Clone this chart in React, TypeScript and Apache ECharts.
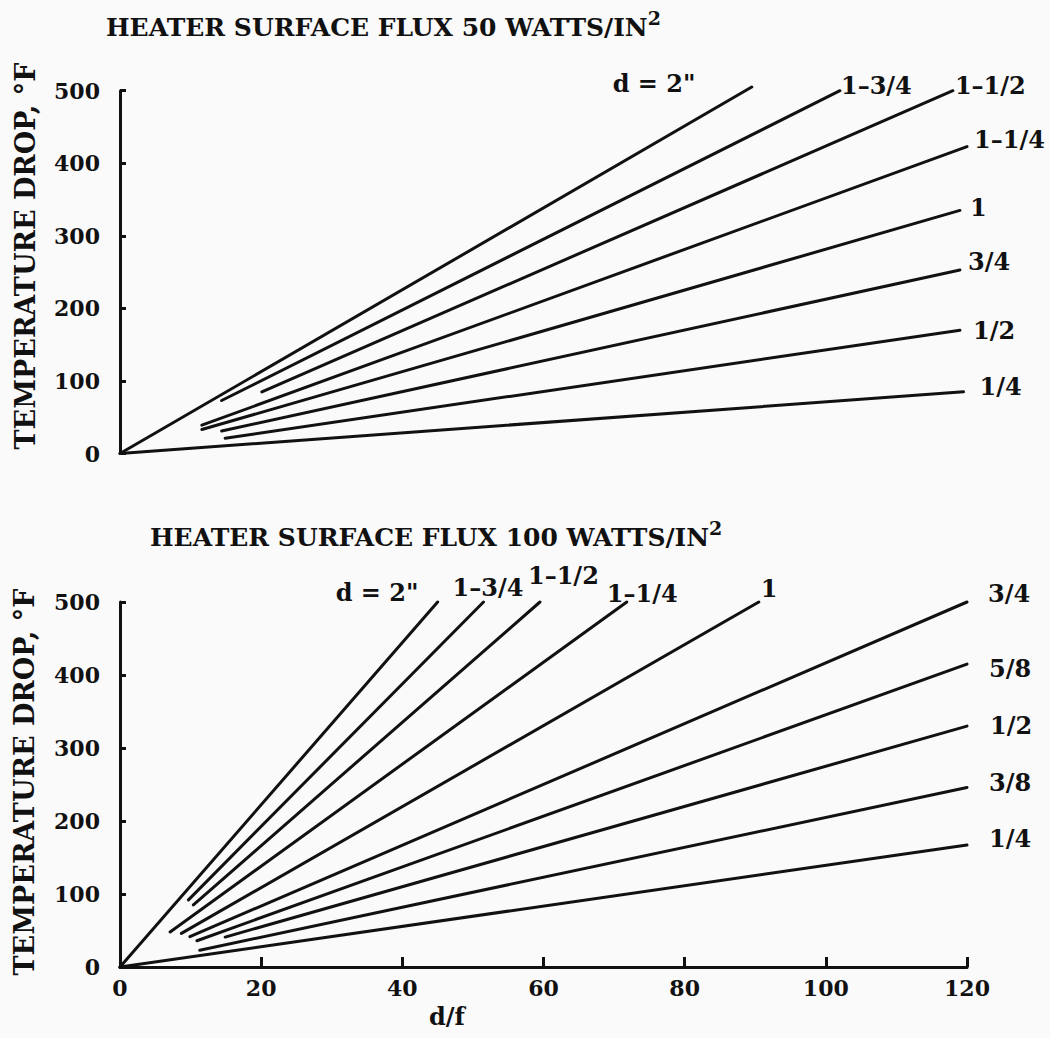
import React, { useEffect, useRef } from "react";
import * as echarts from "echarts";

const FONT = "DejaVu Serif";
const INK = "#111111";

// ---- axis ticks ----
const Y_MIN = 0;
const Y_MAX = 500;
const Y_STEP = 100;
const X_MIN = 0;
const X_MAX = 120;
const X_STEP = 20;

// ---- top panel: heater surface flux 50 W/in² ----
const topNames = ['d = 2"', "1–3/4", "1–1/2", "1–1/4", "1", "3/4", "1/2", "1/4"];
const topStartX = [0, 14.4, 20.1, 11.6, 11.6, 14.4, 14.9, 0];
const topStartY = [0, 73, 85, 39, 33, 31, 21, 0];
const topEndX = [89.5, 102, 118, 120, 119, 119, 119, 119.5];
const topEndY = [505, 500, 500, 423, 335, 253, 170, 85];

// ---- bottom panel: heater surface flux 100 W/in² ----
const botNames = ['d = 2"', "1–3/4", "1–1/2", "1–1/4", "1", "3/4", "5/8", "1/2", "3/8", "1/4"];
const botStartX = [0, 9.7, 10.4, 7.1, 8.7, 9.9, 10.9, 14.9, 11.3, 0];
const botStartY = [0, 92, 85, 48, 46, 41.5, 36, 41, 23, 0];
const botEndX = [45, 51.5, 59.5, 71.8, 90.5, 120, 120, 120, 120, 120];
const botEndY = [500, 500, 500, 500, 500, 500, 415, 330, 246, 167];

// label placement (layout only), offsets from each line's end
const topLabelOffsets = [[-139, -4], [1, -5], [2, -5], [7, -7], [10, -3], [8, -8], [13, 0], [16, -5]];
const botLabelOffsets = [[-102, -10], [-31, -15], [-12, -27], [-20, -9], [2, -14], [21, -9], [22, 4], [23, -1], [22, -5], [22, -7]];

function makeSeries(
  names: string[], sx: number[], sy: number[], ex: number[], ey: number[],
  offs: number[][], idx: number
) {
  return names.map((name, i) => ({
    type: "line",
    name,
    xAxisIndex: idx,
    yAxisIndex: idx,
    data: [[sx[i], sy[i]], [ex[i], ey[i]]],
    symbol: "none",
    showSymbol: false,
    silent: true,
    clip: false,
    lineStyle: { color: INK, width: 3, cap: "round" },
    endLabel: {
      show: true,
      formatter: name,
      distance: 0,
      offset: offs[i],
      align: "left",
      verticalAlign: "middle",
      color: INK,
      fontFamily: FONT,
      fontWeight: "bold",
      fontSize: 24,
    },
  }));
}

function yAxisCfg(idx: number) {
  return {
    type: "value",
    gridIndex: idx,
    min: Y_MIN,
    max: Y_MAX,
    interval: Y_STEP,
    axisLine: { show: true, onZero: false, lineStyle: { color: INK, width: 3 } },
    axisTick: { show: true, inside: true, length: 6, lineStyle: { color: INK, width: 3 } },
    axisLabel: { color: INK, fontFamily: FONT, fontWeight: "bold", fontSize: 22, margin: 20 },
    splitLine: { show: false },
  };
}

export default function App() {
  const ref = useRef<HTMLDivElement>(null);
  useEffect(() => {
    document.body.style.margin = "0";
    if (!ref.current) return;
    const chart = echarts.init(ref.current, undefined, { renderer: "svg" });
    const titleRich = {
      m: { fontSize: 25, fontFamily: FONT, fontWeight: "bold", fill: INK, lineHeight: 32, verticalAlign: "bottom" },
      s: { fontSize: 19, fontFamily: FONT, fontWeight: "bold", fill: INK, lineHeight: 19, verticalAlign: "top" },
    };
    chart.setOption({
      animation: false,
      backgroundColor: "#fafafa",
      grid: [
        { left: 120, top: 90.7, width: 847, height: 362.8 },
        { left: 120, top: 602, width: 847, height: 365 },
      ],
      xAxis: [
        { type: "value", gridIndex: 0, min: X_MIN, max: X_MAX, interval: X_STEP, show: false },
        {
          type: "value", gridIndex: 1, min: X_MIN, max: X_MAX, interval: X_STEP,
          axisLine: { show: true, onZero: false, lineStyle: { color: INK, width: 3 } },
          axisTick: { show: true, inside: true, length: 10, lineStyle: { color: INK, width: 3 } },
          axisLabel: { color: INK, fontFamily: FONT, fontWeight: "bold", fontSize: 22, margin: 10 },
          splitLine: { show: false },
        },
      ],
      yAxis: [yAxisCfg(0), yAxisCfg(1)],
      series: [
        ...makeSeries(topNames, topStartX, topStartY, topEndX, topEndY, topLabelOffsets, 0),
        ...makeSeries(botNames, botStartX, botStartY, botEndX, botEndY, botLabelOffsets, 1),
      ],
      graphic: [
        {
          type: "text", x: 106, y: 8,
          style: { text: "{m|HEATER SURFACE FLUX 50 WATTS/IN}{s|2}", rich: titleRich, align: "left", verticalAlign: "top" },
        },
        {
          type: "text", x: 150, y: 518,
          style: { text: "{m|HEATER SURFACE FLUX 100 WATTS/IN}{s|2}", rich: titleRich, align: "left", verticalAlign: "top" },
        },
        {
          type: "text", x: 25, y: 256, rotation: Math.PI / 2,
          style: { text: "TEMPERATURE DROP, °F", fill: INK, fontFamily: FONT, fontWeight: "bold", fontSize: 27, align: "center", verticalAlign: "middle" },
        },
        {
          type: "text", x: 24, y: 782, rotation: Math.PI / 2,
          style: { text: "TEMPERATURE DROP, °F", fill: INK, fontFamily: FONT, fontWeight: "bold", fontSize: 27, align: "center", verticalAlign: "middle" },
        },
        {
          type: "text", x: 447, y: 1016,
          style: { text: "d/f", fill: INK, fontFamily: FONT, fontWeight: "bold", fontSize: 24, align: "center", verticalAlign: "middle" },
        },
      ],
    });
    return () => chart.dispose();
  }, []);
  return <div ref={ref} style={{ width: 1050, height: 1038 }} />;
}
